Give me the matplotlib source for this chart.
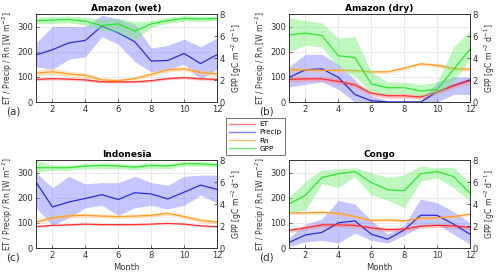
import numpy as np
import matplotlib
matplotlib.use("Agg")
import matplotlib.pyplot as plt
from matplotlib.lines import Line2D

months = np.arange(1, 13)

# Amazon (wet)
wet_et = [90, 93, 91, 88, 80, 80, 80, 85, 93, 97, 92, 90]
wet_et_lo = [85, 88, 86, 83, 76, 76, 76, 80, 88, 92, 87, 85]
wet_et_hi = [95, 98, 96, 93, 85, 85, 85, 90, 98, 102, 97, 95]
wet_pr = [187, 208, 235, 245, 302, 275, 240, 163, 165, 193, 153, 188]
wet_pr_lo = [140, 130, 170, 180, 260, 230, 160, 120, 130, 150, 90, 130]
wet_pr_hi = [235, 300, 300, 300, 345, 330, 310, 215, 225, 250, 220, 255]
wet_rn = [115, 120, 112, 106, 88, 85, 93, 110, 128, 132, 118, 112]
wet_rn_lo = [105, 108, 102, 96, 80, 78, 86, 102, 120, 124, 108, 102]
wet_rn_hi = [125, 135, 122, 116, 96, 92, 100, 118, 136, 140, 128, 122]
wet_gpp = [7.4, 7.45, 7.5, 7.35, 6.95, 7.1, 6.45, 7.1, 7.4, 7.6, 7.55, 7.6]
wet_gpp_lo = [7.1, 7.15, 7.2, 7.0, 6.5, 6.3, 5.6, 6.8, 7.15, 7.35, 7.3, 7.4]
wet_gpp_hi = [7.7, 7.75, 7.8, 7.7, 7.5, 7.6, 7.3, 7.4, 7.7, 7.85, 7.8, 7.8]

# Amazon (dry)
dry_et = [90, 92, 92, 82, 68, 35, 25, 25, 20, 40, 65, 85]
dry_et_lo = [80, 82, 82, 72, 58, 25, 15, 15, 12, 30, 55, 75]
dry_et_hi = [100, 102, 102, 92, 78, 45, 35, 35, 30, 50, 75, 95]
dry_pr = [98, 128, 132, 98, 30, 5, 0, 0, 0, 40, 65, 88]
dry_pr_lo = [60, 70, 80, 50, 0, 0, 0, 0, 0, 0, 30, 30]
dry_pr_hi = [140, 190, 190, 150, 90, 25, 5, 5, 5, 80, 100, 100]
dry_rn = [128, 128, 126, 126, 125, 120, 120, 135, 152, 146, 133, 130]
dry_rn_lo = [120, 120, 118, 118, 118, 114, 114, 128, 146, 138, 125, 122]
dry_rn_hi = [136, 136, 134, 134, 132, 126, 126, 142, 158, 154, 141, 138]
dry_gpp = [6.1, 6.25, 6.05, 4.2, 4.05, 1.65, 1.3, 1.3, 1.0, 1.15, 2.95, 4.8]
dry_gpp_lo = [4.6, 5.15, 5.0, 3.2, 2.3, 0.9, 0.7, 0.8, 0.6, 0.7, 1.8, 3.9]
dry_gpp_hi = [7.65, 7.4, 7.2, 5.8, 5.95, 2.75, 1.8, 1.8, 1.6, 1.8, 5.0, 6.5]

# Indonesia
ind_et = [85, 90, 92, 95, 93, 93, 93, 95, 98, 95, 88, 85]
ind_et_lo = [82, 87, 89, 92, 90, 90, 90, 92, 95, 92, 85, 82]
ind_et_hi = [88, 93, 95, 98, 96, 96, 96, 98, 101, 98, 91, 88]
ind_pr = [262, 163, 183, 197, 212, 193, 220, 215, 195, 222, 250, 233]
ind_pr_lo = [160, 90, 120, 160, 170, 130, 160, 170, 155, 170, 210, 180]
ind_pr_hi = [300, 240, 285, 255, 260, 260, 285, 260, 250, 285, 290, 290]
ind_rn = [103, 120, 128, 130, 127, 125, 127, 130, 138, 125, 110, 103]
ind_rn_lo = [96, 112, 120, 122, 120, 118, 120, 122, 130, 118, 102, 96]
ind_rn_hi = [110, 128, 136, 138, 134, 132, 134, 138, 146, 132, 118, 110]
ind_gpp = [7.3, 7.3, 7.3, 7.45, 7.5, 7.45, 7.35, 7.5, 7.45, 7.65, 7.65, 7.55]
ind_gpp_lo = [6.9, 7.05, 7.05, 7.2, 7.25, 7.2, 7.1, 7.25, 7.2, 7.45, 7.45, 7.35]
ind_gpp_hi = [7.95, 7.55, 7.55, 7.7, 7.75, 7.7, 7.6, 7.75, 7.7, 7.85, 7.85, 7.75]

# Congo
con_et = [70, 80, 92, 92, 90, 80, 73, 75, 87, 90, 88, 82]
con_et_lo = [62, 72, 84, 84, 82, 72, 65, 67, 79, 82, 80, 74]
con_et_hi = [78, 88, 100, 100, 98, 88, 81, 83, 95, 98, 96, 90]
con_pr = [22, 52, 62, 100, 108, 55, 35, 72, 130, 130, 95, 55]
con_pr_lo = [5, 25, 30, 20, 60, 30, 20, 50, 85, 95, 55, 15]
con_pr_hi = [40, 95, 115, 190, 175, 110, 55, 90, 195, 180, 145, 100]
con_rn = [140, 140, 142, 138, 125, 110, 112, 108, 118, 120, 125, 135]
con_rn_lo = [134, 134, 136, 132, 119, 104, 106, 102, 112, 114, 119, 129]
con_rn_hi = [146, 146, 148, 144, 131, 116, 118, 114, 124, 126, 131, 141]
con_gpp = [4.0, 4.8, 6.4, 6.75, 6.95, 5.95, 5.3, 5.2, 6.75, 6.95, 6.5, 5.0]
con_gpp_lo = [3.2, 3.45, 5.85, 5.5, 6.5, 4.8, 4.35, 3.65, 6.05, 6.4, 5.5, 4.25]
con_gpp_hi = [4.6, 6.05, 7.1, 7.2, 7.3, 6.85, 6.4, 6.65, 7.45, 7.3, 7.35, 5.95]

panels = [
    ("Amazon (wet)", "(a)", wet_et, wet_et_lo, wet_et_hi, wet_pr, wet_pr_lo, wet_pr_hi,
     wet_rn, wet_rn_lo, wet_rn_hi, wet_gpp, wet_gpp_lo, wet_gpp_hi),
    ("Amazon (dry)", "(b)", dry_et, dry_et_lo, dry_et_hi, dry_pr, dry_pr_lo, dry_pr_hi,
     dry_rn, dry_rn_lo, dry_rn_hi, dry_gpp, dry_gpp_lo, dry_gpp_hi),
    ("Indonesia", "(c)", ind_et, ind_et_lo, ind_et_hi, ind_pr, ind_pr_lo, ind_pr_hi,
     ind_rn, ind_rn_lo, ind_rn_hi, ind_gpp, ind_gpp_lo, ind_gpp_hi),
    ("Congo", "(d)", con_et, con_et_lo, con_et_hi, con_pr, con_pr_lo, con_pr_hi,
     con_rn, con_rn_lo, con_rn_hi, con_gpp, con_gpp_lo, con_gpp_hi),
]

c_et = "#ff3030"
c_pr = "#2b2be6"
c_rn = "#ff9f2a"
c_gpp = "#2ee62e"
f_et = "#ff8080"
f_pr = "#8080ff"
f_rn = "#ffc070"
f_gpp = "#70f070"

plt.rcParams["font.family"] = "DejaVu Sans"
plt.rcParams["font.size"] = 6

fig = plt.figure(figsize=(5.0, 2.77), dpi=100)
W, H = 500.0, 277.0
boxes = [(36, 14), (289, 14), (36, 160), (289, 160)]
aw, ah = 181, 88
txt = "#333333"

for i, p in enumerate(panels):
    (title, letter, et, etl, eth, pr, prl, prh, rn, rnl, rnh, gpp, gppl, gpph) = p
    x0, y0 = boxes[i]
    ax = fig.add_axes([x0 / W, 1 - (y0 + ah) / H, aw / W, ah / H])
    ax2 = ax.twinx()

    ax.fill_between(months, prl, prh, color=f_pr, alpha=0.45, lw=0)
    ax.fill_between(months, rnl, rnh, color=f_rn, alpha=0.45, lw=0)
    ax.fill_between(months, etl, eth, color=f_et, alpha=0.45, lw=0)
    ax.plot(months, pr, color=c_pr, lw=0.9)
    ax.plot(months, rn, color=c_rn, lw=0.9)
    ax.plot(months, et, color=c_et, lw=0.9)
    ax2.fill_between(months, gppl, gpph, color=f_gpp, alpha=0.45, lw=0)
    ax2.plot(months, gpp, color=c_gpp, lw=0.9)

    ax.set_xlim(1, 12)
    ax.set_ylim(0, 350)
    ax.set_yticks([0, 100, 200, 300])
    ax.set_xticks([2, 4, 6, 8, 10, 12])
    ax2.set_ylim(0, 8)
    ax2.set_yticks([0, 2, 4, 6, 8])
    ax.grid(True, color="#e6e6e6", lw=0.6)
    ax.set_axisbelow(True)
    for a in (ax, ax2):
        a.tick_params(labelsize=6, length=2, width=0.5, colors=txt, pad=2, direction="in")
        for s in a.spines.values():
            s.set_linewidth(0.6)
            s.set_color(txt)

    ax.set_title(title, fontsize=6.5, fontweight="bold", pad=2)
    ax.set_ylabel("ET / Precip / Rn [W m$^{-2}$]", fontsize=5.5, labelpad=2, color=txt)
    ax2.set_ylabel("GPP [gC m$^{-2}$ d$^{-1}$]", fontsize=5.6, labelpad=3, color=txt)
    if i >= 2:
        ax.set_xlabel("Month", fontsize=6, labelpad=2, color=txt)
    ax.text(-0.165, -0.105, letter, transform=ax.transAxes, fontsize=7.5, color=txt,
            ha="left", va="center")

handles = [Line2D([], [], color=f_et, lw=1.0), Line2D([], [], color=f_pr, lw=1.0),
           Line2D([], [], color=f_rn, lw=1.0), Line2D([], [], color=f_gpp, lw=1.0)]
leg = fig.legend(handles, ["ET", "Precip", "Rn", "GPP"], loc="center",
                 bbox_to_anchor=(0.511, 0.507), fontsize=5.2, frameon=True, fancybox=False,
                 handlelength=3.6, handletextpad=0.6, labelspacing=0.3, borderpad=0.45,
                 borderaxespad=0)
leg.get_frame().set_edgecolor(txt)
leg.get_frame().set_linewidth(0.6)

fig.savefig("out.png", dpi=100)
